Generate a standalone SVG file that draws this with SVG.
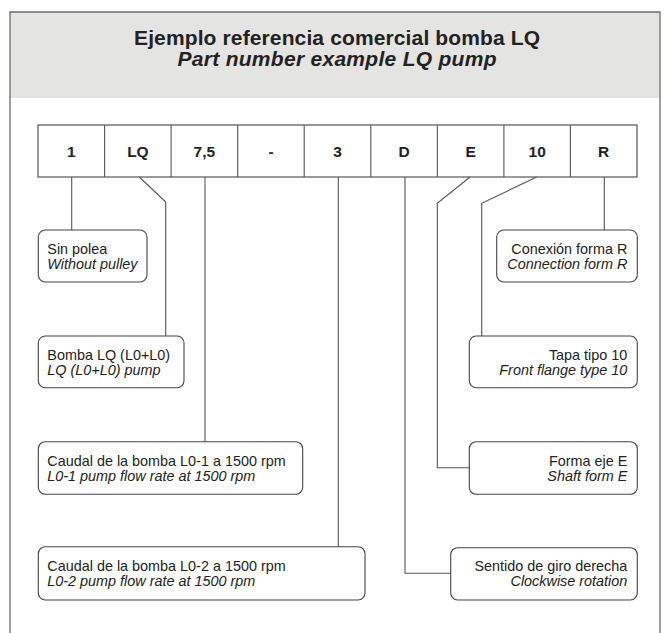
<svg xmlns="http://www.w3.org/2000/svg" width="670" height="633" viewBox="0 0 670 633">
<style>
.frame{fill:none;stroke:#6b6b6b;stroke-width:1.3}
.cell{fill:#fff;stroke:#555;stroke-width:1.2}
.box{fill:#fff;stroke:#444;stroke-width:1.1}
.ln{fill:none;stroke:#555;stroke-width:1.1}
.t{font-family:"Liberation Sans",Arial,sans-serif;fill:#222}
.title{font-size:21px;font-weight:bold;text-anchor:middle}
.sub{font-size:21px;font-style:italic;font-weight:bold;text-anchor:middle}
.code{font-size:15.5px;font-weight:bold;text-anchor:middle}
.l1{font-size:14.4px}
.l2{font-size:14.4px;font-style:italic}
.r{text-anchor:end}
</style>
<rect x="0" y="0" width="670" height="633" fill="#fff"/>
<rect x="10" y="12" width="650" height="86" fill="#e4e4e3"/>
<path class="frame" d="M10,633 V12 H660 V633"/>
<g id="header">
<text class="t title" x="337" y="45" textLength="406" lengthAdjust="spacing">Ejemplo referencia comercial bomba LQ</text>
<text class="t sub" x="337" y="66" textLength="319" lengthAdjust="spacing">Part number example LQ pump</text>
</g>
<g id="code">
<rect class="cell" x="38" y="125" width="599" height="52"/>
<path class="ln" d="M104.6,125V177M171.1,125V177M237.7,125V177M304.2,125V177M370.8,125V177M437.3,125V177M503.9,125V177M570.4,125V177"/>
<text class="t code" x="71.3" y="157">1</text>
<text class="t code" x="137.9" y="157">LQ</text>
<text class="t code" x="204.4" y="157">7,5</text>
<text class="t code" x="271" y="157">-</text>
<text class="t code" x="337.5" y="157">3</text>
<text class="t code" x="404.1" y="157">D</text>
<text class="t code" x="470.6" y="157">E</text>
<text class="t code" x="537.2" y="157">10</text>
<text class="t code" x="603.7" y="157">R</text>
</g>
<g id="connectors">
<path class="ln" d="M71.7,177V230"/>
<path class="ln" d="M139.3,177L165.7,202V336"/>
<path class="ln" d="M205,177V441.7"/>
<path class="ln" d="M338.3,177V546.7"/>
<path class="ln" d="M405,177V573.3H450.7"/>
<path class="ln" d="M470,177L437.3,203.3V467.7H469.3"/>
<path class="ln" d="M536.7,177L481.7,203.3V336"/>
<path class="ln" d="M604.3,177V230"/>
</g>
<g id="n1"><rect class="box" x="38.3" y="230" width="108.7" height="52" rx="7"/>
<text class="t l1" x="47.3" y="254.3">Sin polea</text><text class="t l2" x="47.3" y="269">Without pulley</text></g>
<g id="n2"><rect class="box" x="38.3" y="336" width="145.7" height="51.7" rx="7"/>
<text class="t l1" x="47.3" y="360.3">Bomba LQ (L0+L0)</text><text class="t l2" x="47.3" y="375">LQ (L0+L0) pump</text></g>
<g id="n3"><rect class="box" x="38.3" y="441.7" width="264.4" height="52.6" rx="7"/>
<text class="t l1" x="47.3" y="466">Caudal de la bomba L0-1 a 1500 rpm</text><text class="t l2" x="47.3" y="480.7">L0-1 pump flow rate at 1500 rpm</text></g>
<g id="n4"><rect class="box" x="38.3" y="546.7" width="326.7" height="53.3" rx="7"/>
<text class="t l1" x="47.3" y="571.3">Caudal de la bomba L0-2 a 1500 rpm</text><text class="t l2" x="47.3" y="586">L0-2 pump flow rate at 1500 rpm</text></g>
<g id="n5"><rect class="box" x="496.7" y="230" width="140.6" height="52" rx="7"/>
<text class="t l1 r" x="627.3" y="254.3">Conexión forma R</text><text class="t l2 r" x="627.3" y="269">Connection form R</text></g>
<g id="n6"><rect class="box" x="469.3" y="336" width="168" height="51.7" rx="7"/>
<text class="t l1 r" x="627.3" y="360.3">Tapa tipo 10</text><text class="t l2 r" x="627.3" y="375">Front flange type 10</text></g>
<g id="n7"><rect class="box" x="469.3" y="441.7" width="168" height="52.6" rx="7"/>
<text class="t l1 r" x="627.3" y="466">Forma eje E</text><text class="t l2 r" x="627.3" y="480.7">Shaft form E</text></g>
<g id="n8"><rect class="box" x="450.7" y="547.7" width="186.6" height="52.3" rx="7"/>
<text class="t l1 r" x="627.3" y="571.3">Sentido de giro derecha</text><text class="t l2 r" x="627.3" y="586">Clockwise rotation</text></g>
</svg>
